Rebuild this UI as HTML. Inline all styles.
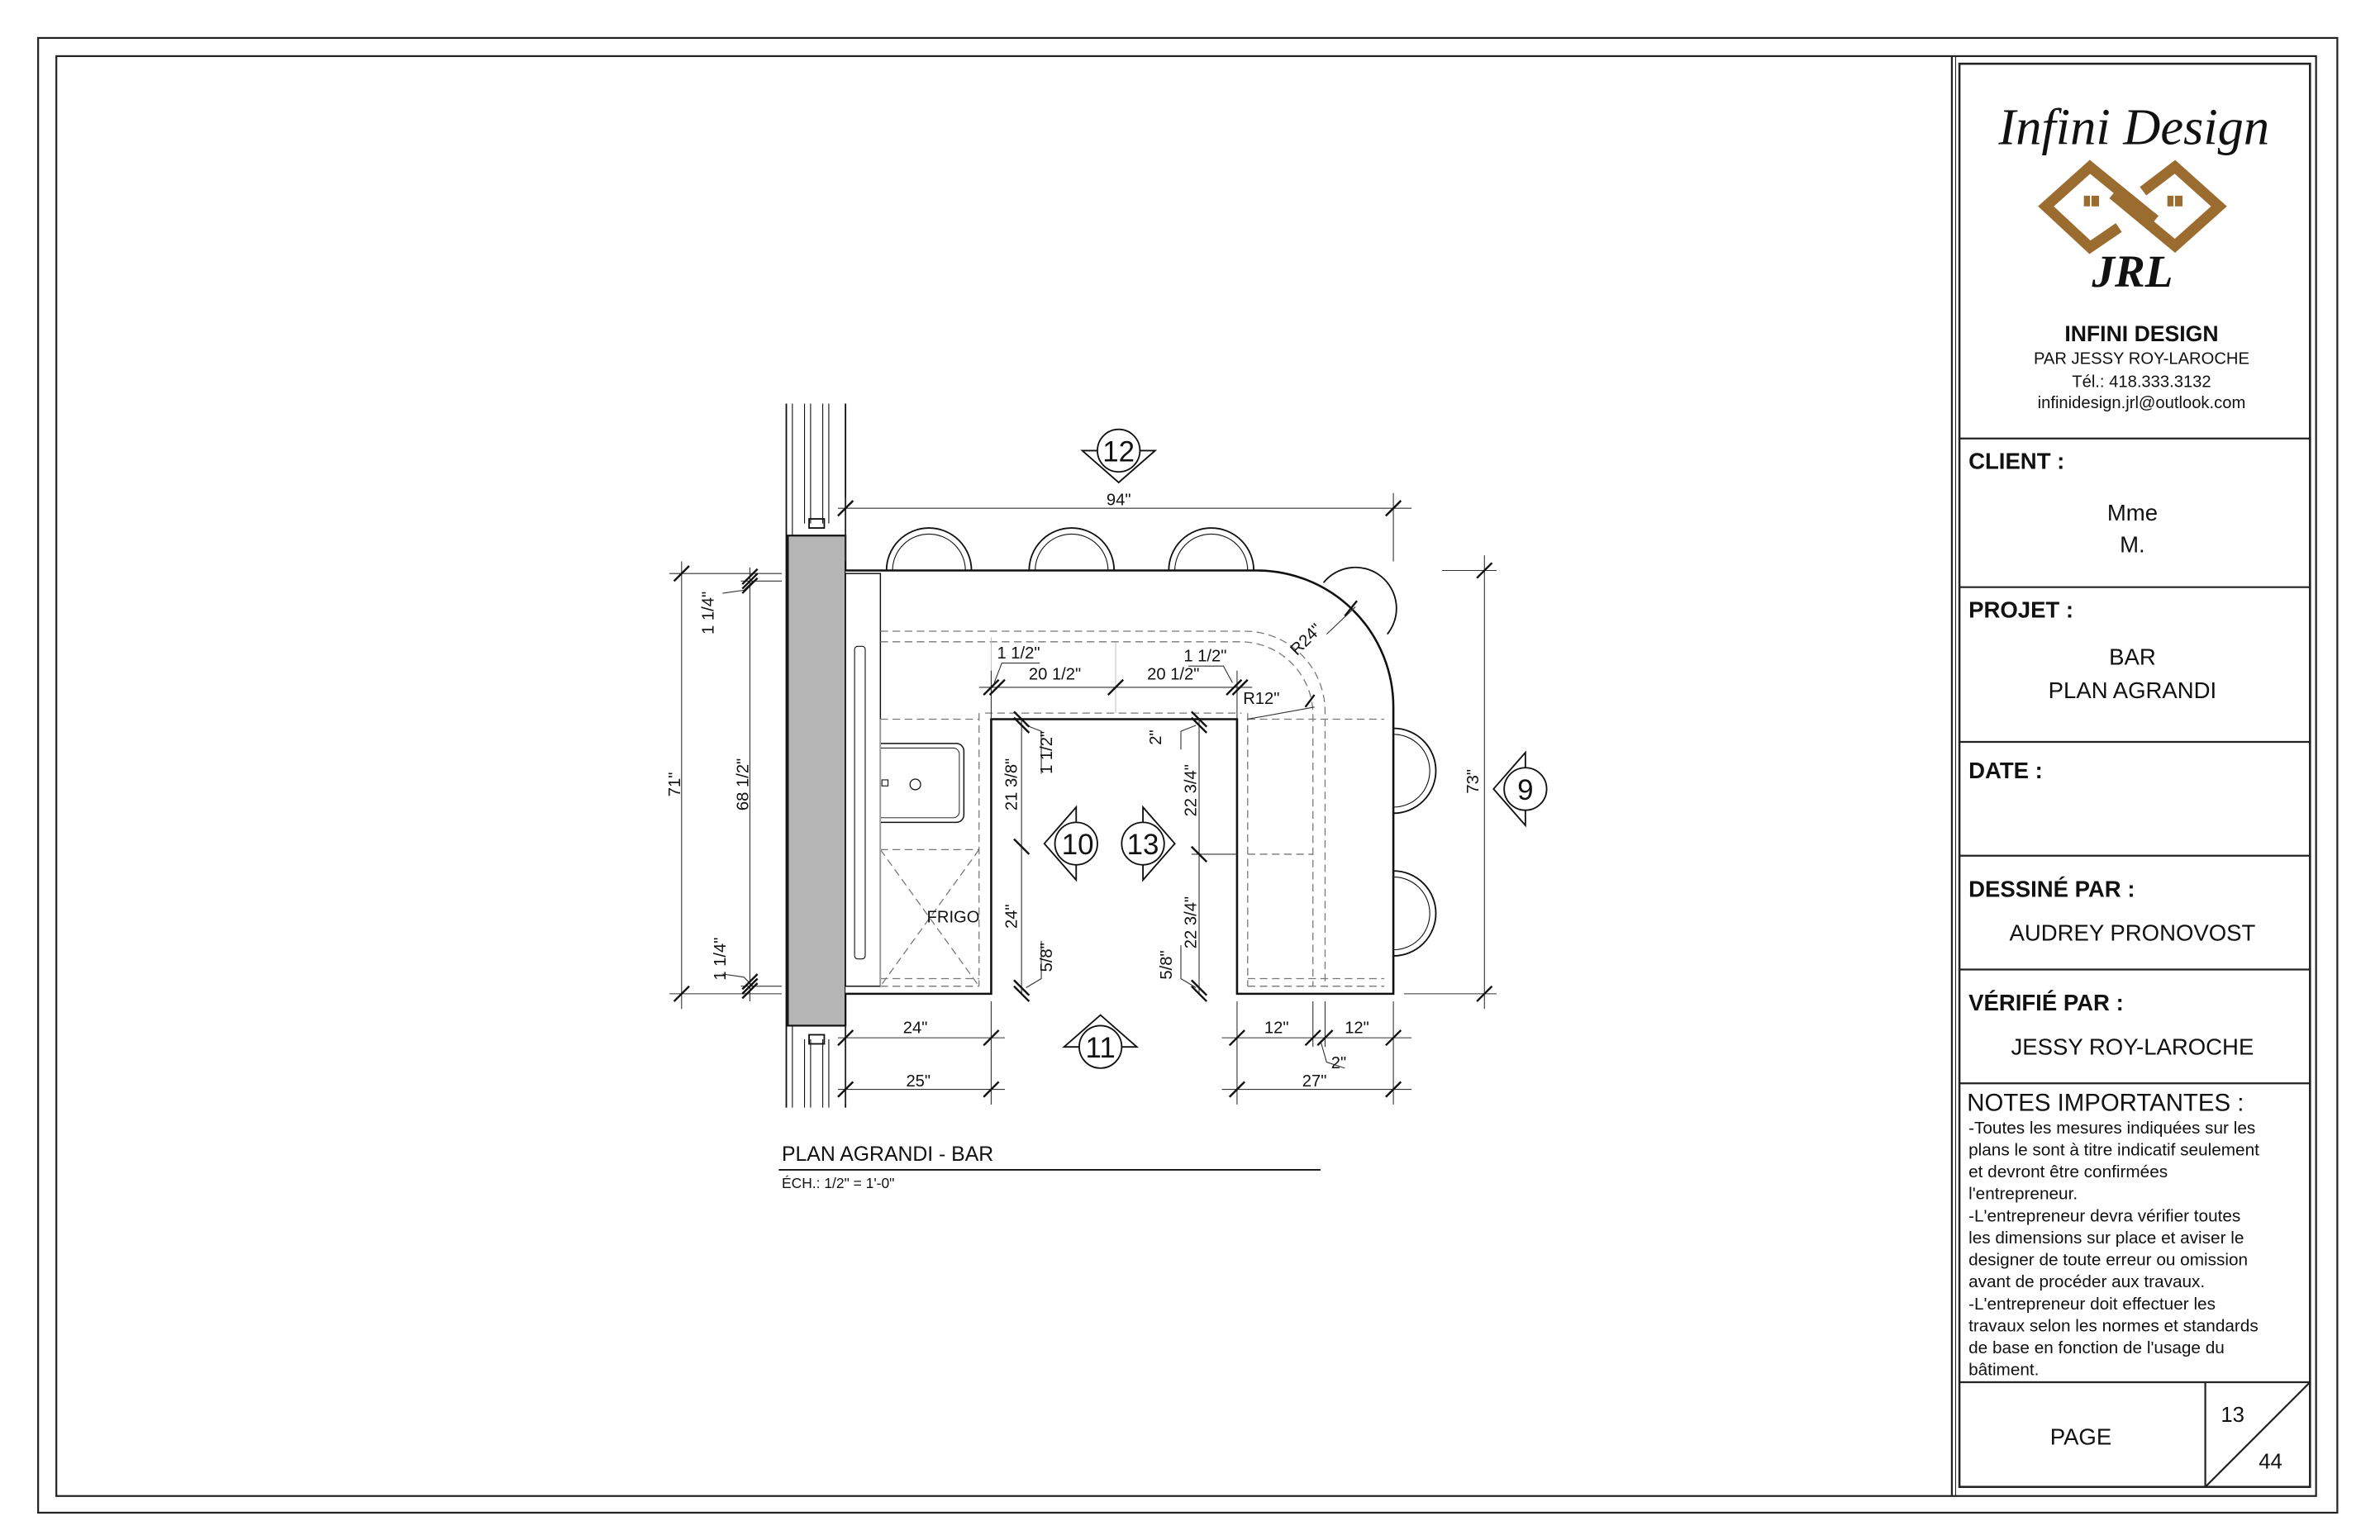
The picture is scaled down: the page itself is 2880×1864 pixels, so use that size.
<!DOCTYPE html>
<html><head><meta charset="utf-8"><style>
html,body{margin:0;padding:0;background:#fff}
svg{display:block}
text{font-family:"Liberation Sans",sans-serif;fill:#111}
</style></head><body>
<svg width="2880" height="1864" viewBox="0 0 1568 1015" xmlns="http://www.w3.org/2000/svg">
<rect width="1568" height="1015" fill="#fff"/>
<g fill="none" stroke="#222" stroke-width="1.2">
<rect x="25" y="25" width="1515" height="972"/>
<rect x="37" y="37" width="1489" height="949"/>
<line x1="1286" y1="37" x2="1286" y2="986"/>
<line x1="1288.5" y1="37" x2="1288.5" y2="986" stroke-width="0.6"/>
<rect x="1291" y="42" width="231" height="938" stroke-width="1.4"/>
<line x1="1291" y1="289" x2="1522" y2="289"/>
<line x1="1291" y1="387" x2="1522" y2="387"/>
<line x1="1291" y1="489" x2="1522" y2="489"/>
<line x1="1291" y1="564" x2="1522" y2="564"/>
<line x1="1291" y1="639" x2="1522" y2="639"/>
<line x1="1291" y1="714" x2="1522" y2="714"/>
<line x1="1291" y1="911" x2="1522" y2="911"/>
<line x1="1453" y1="911" x2="1453" y2="980"/>
<line x1="1453" y1="980" x2="1522" y2="911"/>
</g>
<!-- logo -->
<text x="1406" y="95" style="font-family:'Liberation Serif',serif;font-style:italic;font-size:34px" text-anchor="middle" fill="#333">Infini Design</text>
<g fill="none" stroke="#9b6c30" stroke-width="7" stroke-linejoin="miter">
<path d="M1396 150 L1377 163 L1348 136 L1377 110 L1420 145"/>
<path d="M1412 126 L1433 110 L1462 136 L1433 162 L1392 128"/>
</g>
<g fill="#9b6c30">
<rect x="1373" y="129" width="4" height="7"/><rect x="1378" y="129" width="5" height="7"/>
<rect x="1428" y="129" width="4" height="7"/><rect x="1433" y="129" width="5" height="7"/>
</g>
<text x="1405" y="189" style="font-family:'Liberation Serif',serif;font-style:italic;font-weight:bold;font-size:30px" text-anchor="middle" fill="#9b6c30">JRL</text>
<text x="1411" y="225" font-size="14.5" font-weight="bold" text-anchor="middle">INFINI DESIGN</text>
<text x="1411" y="240" font-size="11" text-anchor="middle">PAR JESSY ROY-LAROCHE</text>
<text x="1411" y="255" font-size="11" text-anchor="middle">Tél.: 418.333.3132</text>
<text x="1411" y="269" font-size="11" text-anchor="middle">infinidesign.jrl@outlook.com</text>
<g font-size="15" font-weight="bold">
<text x="1297" y="309">CLIENT :</text>
<text x="1297" y="407">PROJET :</text>
<text x="1297" y="513">DATE :</text>
<text x="1297" y="591">DESSINÉ PAR :</text>
<text x="1297" y="666">VÉRIFIÉ PAR :</text>
</g>
<g font-size="15" text-anchor="middle">
<text x="1405" y="343">Mme</text>
<text x="1405" y="364">M.</text>
<text x="1405" y="438">BAR</text>
<text x="1405" y="460">PLAN AGRANDI</text>
<text x="1405" y="620">AUDREY PRONOVOST</text>
<text x="1405" y="695">JESSY ROY-LAROCHE</text>
</g>
<text x="1296" y="732" font-size="16">NOTES IMPORTANTES :</text>
<g font-size="11.3">
<text x="1297" y="747">-Toutes les mesures indiquées sur les</text>
<text x="1297" y="761.5">plans le sont à titre indicatif seulement</text>
<text x="1297" y="776">et devront être confirmées</text>
<text x="1297" y="790.5">l'entrepreneur.</text>
<text x="1297" y="805">-L'entrepreneur devra vérifier toutes</text>
<text x="1297" y="819.5">les dimensions sur place et aviser le</text>
<text x="1297" y="834">designer de toute erreur ou omission</text>
<text x="1297" y="848.5">avant de procéder aux travaux.</text>
<text x="1297" y="863">-L'entrepreneur doit effectuer les</text>
<text x="1297" y="877.5">travaux selon les normes et standards</text>
<text x="1297" y="892">de base en fonction de l'usage du</text>
<text x="1297" y="906.5">bâtiment.</text>
</g>
<text x="1371" y="952" font-size="15" text-anchor="middle">PAGE</text>
<text x="1471" y="937" font-size="14" text-anchor="middle">13</text>
<text x="1496" y="968" font-size="14" text-anchor="middle">44</text>

<!-- drawing -->
<g fill="none" stroke="#111" stroke-width="1">
<line x1="518" y1="266" x2="518" y2="730"/><line x1="522" y1="266" x2="522" y2="730" stroke-width="0.6"/>
<line x1="530" y1="266" x2="530" y2="345" stroke-width="0.6"/><line x1="534" y1="266" x2="534" y2="345" stroke-width="0.6"/>
<line x1="530" y1="685" x2="530" y2="730" stroke-width="0.6"/><line x1="534" y1="685" x2="534" y2="730" stroke-width="0.6"/>
<line x1="542" y1="266" x2="542" y2="345" stroke-width="0.6"/><line x1="546" y1="266" x2="546" y2="345" stroke-width="0.6"/>
<line x1="542" y1="685" x2="542" y2="730" stroke-width="0.6"/><line x1="546" y1="685" x2="546" y2="730" stroke-width="0.6"/>
<line x1="557" y1="266" x2="557" y2="730"/>
<rect x="533" y="342" width="10" height="6"/><rect x="533" y="682" width="10" height="6"/>
<line x1="518" y1="353" x2="557" y2="353"/><line x1="518" y1="676" x2="557" y2="676"/>
<rect x="519" y="353" width="38" height="323" fill="#b5b5b5" stroke-width="1.2"/>
<path d="M584 376 A28 28 0 0 1 640 376"/><path d="M588 376 A24 24 0 0 1 636 376" stroke-width="0.6"/>
<path d="M678 376 A28 28 0 0 1 734 376"/><path d="M682 376 A24 24 0 0 1 730 376" stroke-width="0.6"/>
<path d="M770 376 A28 28 0 0 1 826 376"/><path d="M774 376 A24 24 0 0 1 822 376" stroke-width="0.6"/>
<path d="M872 384 A25 25 0 1 1 914 418"/>
<path d="M918 480 A28 28 0 0 1 918 536"/><path d="M918 484 A24 24 0 0 1 918 532" stroke-width="0.6"/>
<path d="M918 574 A28 28 0 0 1 918 630"/><path d="M918 578 A24 24 0 0 1 918 626" stroke-width="0.6"/>
<path d="M557 376 L828 376 A90 90 0 0 1 918 466 L918 655 L815 655 L815 474 L653 474 L653 655 L557 655" stroke-width="1.4" fill="#fff"/>
<rect x="557" y="378" width="23" height="272" stroke-width="0.8"/>
<rect x="563" y="426" width="7" height="206" rx="2" stroke-width="0.6"/>
<path d="M580 490 H630 A5 5 0 0 1 635 495 V537 A5 5 0 0 1 630 542 H580" stroke-width="0.8"/>
<path d="M580 493 H628 A4 4 0 0 1 632 497 V535 A4 4 0 0 1 628 539 H580" stroke-width="0.5"/>
<circle cx="603" cy="517" r="3.5" stroke-width="0.7"/><rect x="581" y="514" width="4" height="4" stroke-width="0.6"/>
</g>
<g fill="none" stroke="#777" stroke-width="0.7" stroke-dasharray="5 3">
<path d="M580 416 L820 416 A53 53 0 0 1 873 469 L873 650"/>
<path d="M580 423 L818 423 A48 48 0 0 1 865 471 L865 650"/>
<line x1="580" y1="474" x2="645" y2="474"/><line x1="822" y1="474" x2="912" y2="474"/>
<line x1="645" y1="470" x2="645" y2="650"/><line x1="822" y1="470" x2="822" y2="650"/>
<line x1="649" y1="470" x2="818" y2="470"/>
<line x1="580" y1="650" x2="645" y2="650"/><line x1="822" y1="650" x2="912" y2="650"/>
<line x1="580" y1="645" x2="645" y2="645"/><line x1="822" y1="645" x2="912" y2="645"/>
<line x1="580" y1="560" x2="645" y2="560"/>
<line x1="580" y1="560" x2="645" y2="650"/><line x1="645" y1="560" x2="580" y2="650"/>
<line x1="822" y1="563" x2="865" y2="563"/>
</g>
<g stroke="#bbb" stroke-width="0.5" fill="none">
<line x1="580" y1="474" x2="580" y2="650"/><line x1="735" y1="423" x2="735" y2="470"/>
<line x1="653" y1="474" x2="653" y2="420"/>
</g>
<text x="628" y="608" font-size="11" text-anchor="middle">FRIGO</text>

<g stroke="#333" stroke-width="0.6" fill="none">
<line x1="552" y1="335" x2="930" y2="335"/><line x1="557" y1="328" x2="557" y2="370"/><line x1="918" y1="325" x2="918" y2="370"/>
<line x1="978" y1="366" x2="978" y2="665"/><line x1="950" y1="376" x2="986" y2="376"/><line x1="925" y1="655" x2="986" y2="655"/>
<line x1="449" y1="370" x2="449" y2="665"/><line x1="441" y1="378" x2="515" y2="378"/><line x1="441" y1="655" x2="515" y2="655"/>
<line x1="494" y1="374" x2="494" y2="660"/><line x1="488" y1="383" x2="515" y2="383"/><line x1="488" y1="650" x2="515" y2="650"/>
<path d="M496 383 L490 389 L476 391"/><path d="M496 650 L490 644 L476 642"/>
<line x1="552" y1="684" x2="662" y2="684"/><line x1="552" y1="718" x2="662" y2="718"/>
<line x1="653" y1="660" x2="653" y2="728"/><line x1="557" y1="676" x2="557" y2="728"/>
<line x1="805" y1="684" x2="930" y2="684"/><line x1="805" y1="718" x2="930" y2="718"/>
<line x1="815" y1="660" x2="815" y2="728"/><line x1="918" y1="660" x2="918" y2="728"/>
<line x1="865" y1="660" x2="865" y2="690"/><line x1="873" y1="660" x2="873" y2="690"/>
<path d="M870 686 L874 700 L886 704"/>
<line x1="645" y1="453" x2="825" y2="453"/>
<line x1="653" y1="442" x2="653" y2="474"/><line x1="815" y1="442" x2="815" y2="474"/>
<path d="M655 450 L660 437 L685 437"/><path d="M812 450 L806 439 L783 439"/>
<path d="M866 466 L822 474"/><path d="M874 418 L893 400"/>
<line x1="673" y1="474" x2="673" y2="655"/><line x1="790" y1="474" x2="790" y2="655"/>
<path d="M676 478 L686 482 L686 510"/><path d="M676 651 L686 645 L686 620"/>
<path d="M788 478 L778 482 L778 494"/><path d="M788 651 L778 645 L778 623"/>
<line x1="785" y1="563" x2="815" y2="563"/>
</g>
<g stroke="#111" stroke-width="1.3">
<line x1="552" y1="340" x2="562" y2="330"/><line x1="913" y1="340" x2="923" y2="330"/>
<line x1="973" y1="381" x2="983" y2="371"/><line x1="973" y1="660" x2="983" y2="650"/>
<line x1="444" y1="383" x2="454" y2="373"/><line x1="444" y1="660" x2="454" y2="650"/>
<line x1="489" y1="388" x2="499" y2="378"/><line x1="489" y1="385" x2="499" y2="375"/><line x1="489" y1="391" x2="499" y2="381"/>
<line x1="489" y1="655" x2="499" y2="645"/><line x1="489" y1="652" x2="499" y2="642"/><line x1="489" y1="658" x2="499" y2="648"/>
<line x1="552" y1="689" x2="562" y2="679"/><line x1="648" y1="689" x2="658" y2="679"/>
<line x1="552" y1="723" x2="562" y2="713"/><line x1="648" y1="723" x2="658" y2="713"/>
<line x1="810" y1="689" x2="820" y2="679"/><line x1="860" y1="689" x2="870" y2="679"/><line x1="868" y1="689" x2="878" y2="679"/><line x1="913" y1="689" x2="923" y2="679"/>
<line x1="810" y1="723" x2="820" y2="713"/><line x1="913" y1="723" x2="923" y2="713"/>
<line x1="648" y1="458" x2="658" y2="448"/><line x1="652" y1="458" x2="662" y2="448"/>
<line x1="730" y1="458" x2="740" y2="448"/>
<line x1="808" y1="458" x2="818" y2="448"/><line x1="812" y1="458" x2="822" y2="448"/>
<line x1="668" y1="469" x2="678" y2="479"/><line x1="668" y1="473" x2="678" y2="483"/>
<line x1="668" y1="553" x2="678" y2="563"/>
<line x1="668" y1="646" x2="678" y2="656"/><line x1="668" y1="650" x2="678" y2="660"/>
<line x1="785" y1="469" x2="795" y2="479"/><line x1="785" y1="473" x2="795" y2="483"/>
<line x1="785" y1="558" x2="795" y2="568"/>
<line x1="785" y1="646" x2="795" y2="656"/><line x1="785" y1="650" x2="795" y2="660"/>
<line x1="860" y1="466" x2="866" y2="458"/><line x1="886" y1="406" x2="894" y2="396"/>
</g>
<g font-size="11" text-anchor="middle">
<text x="737" y="333">94"</text>
<text x="603" y="681">24"</text><text x="605" y="716">25"</text>
<text x="841" y="681">12"</text><text x="894" y="681">12"</text>
<text x="882" y="704">2"</text><text x="866" y="716">27"</text>
<text x="695" y="448">20 1/2"</text><text x="773" y="448">20 1/2"</text>
<text x="671" y="434">1 1/2"</text><text x="794" y="436">1 1/2"</text>
<text x="831" y="464">R12"</text>
<text x="863" y="424" transform="rotate(-45 863 424)">R24"</text>
<text transform="translate(448 517) rotate(-90)">71"</text>
<text transform="translate(493 517) rotate(-90)">68 1/2"</text>
<text transform="translate(470 404) rotate(-90)">1 1/4"</text>
<text transform="translate(478 632) rotate(-90)">1 1/4"</text>
<text transform="translate(974 515) rotate(-90)">73"</text>
<text transform="translate(670 517) rotate(-90)">21 3/8"</text>
<text transform="translate(693 496) rotate(-90)">1 1/2"</text>
<text transform="translate(670 604) rotate(-90)">24"</text>
<text transform="translate(693 631) rotate(-90)">5/8"</text>
<text transform="translate(765 486) rotate(-90)">2"</text>
<text transform="translate(788 521) rotate(-90)">22 3/4"</text>
<text transform="translate(788 608) rotate(-90)">22 3/4"</text>
<text transform="translate(772 636) rotate(-90)">5/8"</text>
</g>
<g fill="#fff" stroke="#111" stroke-width="1">
<path d="M713 297 L761 297 L737 318 Z"/><circle cx="737" cy="297" r="14"/>
<path d="M1005 496 L1005 544 L984 520 Z"/><circle cx="1005" cy="520" r="14"/>
<path d="M709 532 L709 580 L688 556 Z"/><circle cx="709" cy="556" r="14"/>
<path d="M753 532 L753 580 L774 556 Z"/><circle cx="753" cy="556" r="14"/>
<path d="M701 690 L749 690 L725 669 Z"/><circle cx="725" cy="690" r="14"/>
</g>
<g font-size="19" text-anchor="middle">
<text x="737" y="304">12</text><text x="1005" y="527">9</text>
<text x="710" y="563">10</text><text x="753" y="563">13</text><text x="725" y="697">11</text>
</g>
<text x="515" y="765" font-size="13.5">PLAN AGRANDI - BAR</text>
<line x1="513" y1="771" x2="870" y2="771" stroke="#111" stroke-width="1"/>
<text x="515" y="783" font-size="9.5">ÉCH.: 1/2" = 1'-0"</text>
</svg>
</body></html>
